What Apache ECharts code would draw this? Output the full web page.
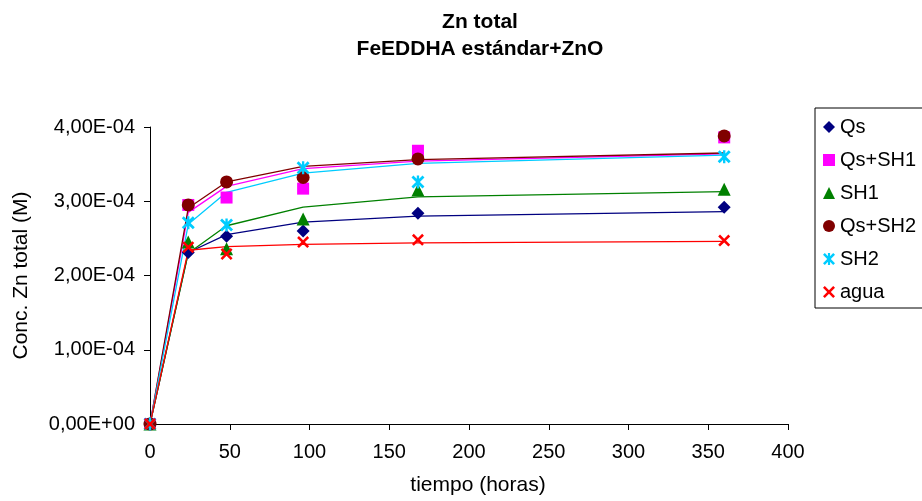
<!DOCTYPE html>
<html>
<head>
<meta charset="utf-8">
<script src="https://cdn.jsdelivr.net/npm/echarts@6/dist/echarts.min.js"></script>
<style>
html,body{margin:0;padding:0;background:#fff;}
#chart{width:922px;height:501px;}
</style>
</head>
<body>
<div id="chart"></div>
<script>
// ---- data ----
const hours = [0, 24, 48, 96, 168, 360];
const seriesNames = ['Qs', 'Qs+SH1', 'SH1', 'Qs+SH2', 'SH2', 'agua'];
// observed values (markers)
const obsQs    = [0, 2.31e-4, 2.53e-4, 2.60e-4, 2.84e-4, 2.92e-4];
const obsQsSH1 = [0, 2.95e-4, 3.05e-4, 3.17e-4, 3.68e-4, 3.86e-4];
const obsSH1   = [0, 2.45e-4, 2.36e-4, 2.76e-4, 3.15e-4, 3.16e-4];
const obsQsSH2 = [0, 2.95e-4, 3.26e-4, 3.32e-4, 3.57e-4, 3.88e-4];
const obsSH2   = [0, 2.71e-4, 2.68e-4, 3.45e-4, 3.26e-4, 3.60e-4];
const obsAgua  = [0, 2.38e-4, 2.29e-4, 2.45e-4, 2.48e-4, 2.47e-4];
// fitted model values (lines)
const fitQs    = [0, 2.31e-4, 2.55e-4, 2.72e-4, 2.80e-4, 2.86e-4];
const fitQsSH1 = [0, 2.85e-4, 3.20e-4, 3.44e-4, 3.54e-4, 3.64e-4];
const fitSH1   = [0, 2.30e-4, 2.67e-4, 2.92e-4, 3.06e-4, 3.13e-4];
const fitQsSH2 = [0, 2.91e-4, 3.26e-4, 3.47e-4, 3.56e-4, 3.65e-4];
const fitSH2   = [0, 2.69e-4, 3.12e-4, 3.38e-4, 3.51e-4, 3.62e-4];
const fitAgua  = [0, 2.34e-4, 2.39e-4, 2.42e-4, 2.44e-4, 2.46e-4];
const xTicks = [0, 50, 100, 150, 200, 250, 300, 350, 400];
const yTicks = [0, 1e-4, 2e-4, 3e-4, 4e-4];

// ---- styles ----
const colors = ['#000080', '#FF00FF', '#008000', '#800000', '#00CCFF', '#FF0000'];
const crossPath = 'path://M0,1.5L1.5,0L5,3.5L8.5,0L10,1.5L6.5,5L10,8.5L8.5,10L5,6.5L1.5,10L0,8.5L3.5,5Z';
const starPath = 'path://M0,1.5L1.5,0L5,3.5L8.5,0L10,1.5L6.5,5L10,8.5L8.5,10L5,6.5L1.5,10L0,8.5L3.5,5Z M4.1,0L5.9,0L5.9,10L4.1,10Z';
const symbols = ['diamond', 'rect', 'triangle', 'circle', starPath, crossPath];
const symbolSizes = [13, 12, 13, 13, 13, 12];
const obs = [obsQs, obsQsSH1, obsSH1, obsQsSH2, obsSH2, obsAgua];
const fit = [fitQs, fitQsSH1, fitSH1, fitQsSH2, fitSH2, fitAgua];

function sci(v) {
  if (v === 0) return '0,00E+00';
  const e = Math.floor(Math.log10(Math.abs(v)) + 1e-9);
  const m = v / Math.pow(10, e);
  const sign = e < 0 ? '-' : '+';
  const ea = Math.abs(e);
  return m.toFixed(2).replace('.', ',') + 'E' + sign + (ea < 10 ? '0' : '') + ea;
}

const FONT = '"Liberation Sans", Arial, sans-serif';
const series = [];
fit.forEach((arr, i) => {
  series.push({
    name: seriesNames[i] + ' modelo',
    type: 'line',
    data: hours.map((h, j) => [h, arr[j]]),
    showSymbol: false,
    symbol: 'none',
    lineStyle: { color: colors[i], width: 1.3 },
    itemStyle: { color: colors[i] },
    z: 2,
    silent: true,
    animation: false
  });
});
obs.forEach((arr, i) => {
  series.push({
    name: seriesNames[i],
    type: 'scatter',
    data: hours.map((h, j) => [h, arr[j]]),
    symbol: symbols[i],
    symbolSize: symbolSizes[i],
    itemStyle: { color: colors[i], opacity: 1 },
    z: 3,
    animation: false
  });
});

const chart = echarts.init(document.getElementById('chart'), null, { renderer: 'canvas' });
chart.setOption({
  backgroundColor: '#ffffff',
  animation: false,
  textStyle: { fontFamily: FONT, color: '#000' },
  title: {
    text: 'Zn total\nFeEDDHA estándar+ZnO',
    left: 480,
    top: 9,
    padding: 0,
    textAlign: 'center',
    textStyle: { fontFamily: FONT, fontSize: 21, fontWeight: 'bold', color: '#000', lineHeight: 27 }
  },
  legend: {
    orient: 'vertical',
    left: 815,
    top: 108,
    padding: [9, 30, 6, 8],
    borderColor: '#000',
    borderWidth: 1,
    itemWidth: 12,
    itemHeight: 12,
    itemGap: 13,
    data: seriesNames.map((n, i) => ({ name: n, icon: symbols[i] })),
    textStyle: { fontFamily: FONT, fontSize: 20, color: '#000', lineHeight: 20, padding: [0, 0, 0, 0] }
  },
  grid: { left: 150, right: 134, top: 127, bottom: 74, containLabel: false },
  xAxis: {
    type: 'value',
    min: xTicks[0],
    max: xTicks[xTicks.length - 1],
    interval: xTicks[1] - xTicks[0],
    name: 'tiempo (horas)',
    nameLocation: 'middle',
    nameGap: 51,
    nameTextStyle: { fontFamily: FONT, fontSize: 21, color: '#000', padding: [0, 0, 0, 18] },
    axisLine: { show: true, onZero: false, lineStyle: { color: '#000', width: 1 } },
    axisTick: { show: true, length: 6, inside: false, lineStyle: { color: '#000' } },
    axisLabel: { fontFamily: FONT, fontSize: 20, color: '#000', margin: 18 },
    splitLine: { show: false }
  },
  yAxis: {
    type: 'value',
    min: yTicks[0],
    max: yTicks[yTicks.length - 1],
    interval: yTicks[1] - yTicks[0],
    name: 'Conc. Zn total (M)',
    nameLocation: 'middle',
    nameGap: 118,
    nameRotate: 90,
    nameTextStyle: { fontFamily: FONT, fontSize: 21, color: '#000' },
    axisLine: { show: true, lineStyle: { color: '#000', width: 1 } },
    axisTick: { show: true, length: 6, inside: false, lineStyle: { color: '#000' } },
    axisLabel: { fontFamily: FONT, fontSize: 20, color: '#000', margin: 15, formatter: sci },
    splitLine: { show: false }
  },
  series: series
});
</script>
</body>
</html>
